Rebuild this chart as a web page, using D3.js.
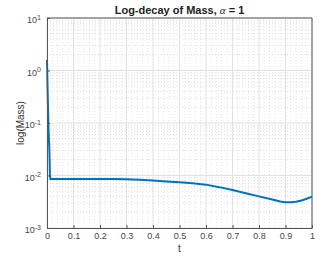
<!DOCTYPE html>
<html>
<head>
<meta charset="utf-8">
<script src="https://cdn.jsdelivr.net/npm/d3@7"></script>
<style>
  body { margin: 0; background: #fff; }
  svg { font-family: "Liberation Sans", Arial, sans-serif; display: block; }
</style>
</head>
<body>
<div id="chart"></div>
<script>
// data
const tVals = [0, 0.003, 0.006, 0.009, 0.011, 0.013, 0.05, 0.1, 0.15, 0.2, 0.25, 0.3, 0.35, 0.4,
  0.45, 0.5, 0.55, 0.6, 0.65, 0.7, 0.75, 0.8, 0.85, 0.88, 0.9, 0.92, 0.94, 0.96, 0.98, 1.0];
const massVals = [1.6, 0.3, 0.07, 0.03, 0.01, 0.0086, 0.0086, 0.0086, 0.0086, 0.0086, 0.0086, 0.0085,
  0.0083, 0.0080, 0.0077, 0.0074, 0.0071, 0.0067, 0.0060, 0.0053, 0.0046, 0.0040, 0.0035, 0.0032,
  0.0031, 0.00308, 0.00315, 0.00335, 0.0036, 0.00395];
const xTicks = [0, 0.1, 0.2, 0.3, 0.4, 0.5, 0.6, 0.7, 0.8, 0.9, 1];
const yTicks = [1e-3, 1e-2, 1e-1, 1, 10];

const width = 335, height = 259;
const margin = { top: 18, right: 23, bottom: 31, left: 47 };

const svg = d3.select("#chart").append("svg")
  .attr("width", width)
  .attr("height", height);

const x = d3.scaleLinear().domain([0, 1]).range([margin.left, width - margin.right]);
const y = d3.scaleLog().domain([1e-3, 10]).range([height - margin.bottom, margin.top]);

// minor grid
const xMinor = d3.range(0, 1.0001, 0.02).filter(v => Math.abs(v * 10 - Math.round(v * 10)) > 1e-6);
const yMinor = [];
[1e-3, 1e-2, 1e-1, 1].forEach(d => { for (let k = 2; k <= 9; k++) yMinor.push(d * k); });

svg.append("g").selectAll("line")
  .data(xMinor)
  .join("line")
  .attr("x1", d => x(d)).attr("x2", d => x(d))
  .attr("y1", margin.top).attr("y2", height - margin.bottom)
  .attr("stroke", "#e4e4e4").attr("stroke-dasharray", "1,2");

svg.append("g").selectAll("line")
  .data(yMinor)
  .join("line")
  .attr("x1", margin.left).attr("x2", width - margin.right)
  .attr("y1", d => y(d)).attr("y2", d => y(d))
  .attr("stroke", "#dcdcdc").attr("stroke-dasharray", "1,2");

// major grid
svg.append("g").selectAll("line")
  .data(xTicks)
  .join("line")
  .attr("x1", d => x(d)).attr("x2", d => x(d))
  .attr("y1", margin.top).attr("y2", height - margin.bottom)
  .attr("stroke", "#e2e2e2");

svg.append("g").selectAll("line")
  .data(yTicks)
  .join("line")
  .attr("x1", margin.left).attr("x2", width - margin.right)
  .attr("y1", d => y(d)).attr("y2", d => y(d))
  .attr("stroke", "#e2e2e2");

// data line
svg.append("path")
  .datum(tVals.map((t, i) => [t, massVals[i]]))
  .attr("fill", "none")
  .attr("stroke", "#0072BD")
  .attr("stroke-width", 2)
  .attr("d", d3.line().x(d => x(d[0])).y(d => y(d[1])));

// axes
const xAxis = svg.append("g")
  .attr("transform", `translate(0,${height - margin.bottom})`)
  .call(d3.axisBottom(x).tickValues(xTicks).tickFormat(d3.format("")).tickSizeInner(-3).tickSizeOuter(0).tickPadding(5));

const yAxis = svg.append("g")
  .attr("transform", `translate(${margin.left},0)`)
  .call(d3.axisLeft(y).tickValues(yTicks).tickSizeInner(-3).tickSizeOuter(0).tickPadding(6));

[xAxis, yAxis].forEach(g => {
  g.select(".domain").attr("stroke", "#555");
  g.selectAll(".tick line").attr("stroke", "#555");
  g.selectAll(".tick text").attr("fill", "#444").attr("font-size", "9px");
});

yAxis.selectAll(".tick text")
  .text(null)
  .attr("dy", "0.55em")
  .each(function (d) {
    const t = d3.select(this);
    t.append("tspan").text("10");
    t.append("tspan").attr("dy", "-0.55em").attr("font-size", "7px").text(Math.round(Math.log10(d)));
  });

// box top/right
svg.append("path")
  .attr("d", `M${margin.left},${margin.top}H${width - margin.right}V${height - margin.bottom}`)
  .attr("fill", "none")
  .attr("stroke", "#555");

// labels
const title = svg.append("text")
  .attr("x", (margin.left + width - margin.right) / 2)
  .attr("y", 14)
  .attr("text-anchor", "middle")
  .attr("font-size", "11px")
  .attr("font-weight", "bold")
  .attr("fill", "#222");
title.append("tspan").text("Log-decay of Mass, ");
title.append("tspan").attr("font-family", "'Liberation Serif', serif").attr("font-style", "italic").attr("font-weight", "normal").text("α");
title.append("tspan").text(" = 1");

svg.append("text")
  .attr("x", (margin.left + width - margin.right) / 2)
  .attr("y", 252)
  .attr("text-anchor", "middle")
  .attr("font-size", "10px")
  .attr("fill", "#333")
  .text("t");

svg.append("text")
  .attr("transform", `translate(24,${(margin.top + height - margin.bottom) / 2}) rotate(-90)`)
  .attr("text-anchor", "middle")
  .attr("font-size", "10px")
  .attr("fill", "#333")
  .text("log(Mass)");
</script>
</body>
</html>
